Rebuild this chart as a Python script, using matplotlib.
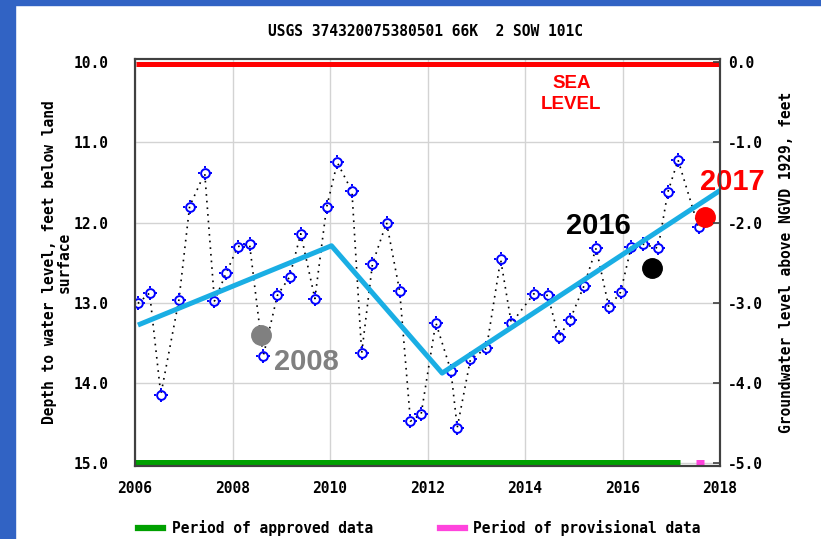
import matplotlib
matplotlib.use('Agg')
import matplotlib.pyplot as plt
from matplotlib.path import Path
from matplotlib.patches import Rectangle
from matplotlib.lines import Line2D
from matplotlib.ticker import FormatStrFormatter

plt.rcParams['axes.unicode_minus'] = False

# Quarterly depth-to-water readings (decimal year, feet below land surface)
years = [2006.06, 2006.30, 2006.53, 2006.90, 2007.12, 2007.43, 2007.63, 2007.87,
         2008.11, 2008.35, 2008.63, 2008.92, 2009.17, 2009.40, 2009.69, 2009.93,
         2010.15, 2010.45, 2010.65, 2010.87, 2011.16, 2011.43, 2011.65, 2011.87,
         2012.17, 2012.48, 2012.61, 2012.88, 2013.21, 2013.50, 2013.72, 2014.18,
         2014.47, 2014.69, 2014.92, 2015.21, 2015.46, 2015.72, 2015.96, 2016.18,
         2016.42, 2016.73, 2016.93, 2017.14, 2017.56]
depth = [13.01, 12.88, 14.15, 12.97, 11.80, 11.38, 12.98, 12.63,
         12.30, 12.27, 13.67, 12.91, 12.68, 12.14, 12.95, 11.81,
         11.25, 11.61, 13.63, 12.52, 12.00, 12.86, 14.48, 14.39,
         13.25, 13.85, 14.56, 13.71, 13.57, 12.46, 13.26, 12.89,
         12.91, 13.43, 13.22, 12.79, 12.32, 13.06, 12.87, 12.30,
         12.27, 12.32, 11.62, 11.22, 12.06]

# hand-drawn trend segments
trend_x = [2006.06, 2010.03, 2012.30, 2018.0]
trend_y = [13.28, 12.29, 13.88, 11.60]

# highlighted years
hl_x = [2008.59, 2016.61, 2017.70]
hl_y = [13.40, 12.57, 11.93]
hl_colors = ['#808080', '#000000', '#ff0000']
hl_labels = ['2008', '2016', '2017']
hl_label_x = [2009.52, 2015.50, 2018.25]
hl_label_y = [13.74, 12.04, 11.49]

sea_level_depth = 10.0
approved_period = [2006.0, 2017.17]
provisional_period = [2017.50, 2017.67]

mono = 'DejaVu Sans Mono'

fig = plt.figure(figsize=(8.21, 5.39), dpi=100)
ax = fig.add_axes([135 / 821, 1 - 466 / 539, 585 / 821, 407 / 539])

# blue page border
fig.add_artist(Rectangle((0, 0), 15 / 821, 1, transform=fig.transFigure,
                         color='#3163c4', zorder=0))
fig.add_artist(Rectangle((0, 1 - 5 / 539), 1, 5 / 539, transform=fig.transFigure,
                         color='#3163c4', zorder=0))

# short ticks around each circle marker
tick_len = 0.3
ticks = Path([(0, 1 - tick_len), (0, 1), (0, tick_len - 1), (0, -1),
              (1 - tick_len, 0), (1, 0), (tick_len - 1, 0), (-1, 0)],
             [Path.MOVETO, Path.LINETO] * 4)

ax.plot(years, depth, color='black', lw=1.2, ls=(0, (1, 3)), zorder=3)
ax.plot(years, depth, ls='none', marker='o', ms=6.3, mfc='none', mec='#0000ff',
        mew=1.4, zorder=4)
ax.plot(years, depth, ls='none', marker=ticks, ms=9.5, mec='#0000ff',
        mew=1.4, zorder=4)

ax.plot(trend_x, trend_y, color='#1aaee4', lw=3.6, zorder=5, solid_capstyle='butt')

ax.plot([2006.02, 2018], [sea_level_depth + 0.025] * 2, color='#ff0000', lw=3.6, zorder=2,
        solid_capstyle='butt')
ax.text(2014.95, 10.39, 'SEA\nLEVEL', color='#ff0000', fontsize=13.5, fontweight='bold',
        family='Liberation Sans', ha='center', va='center', linespacing=1.3)

ax.plot(approved_period, [14.99, 14.99], color='#00a000', lw=3.6, zorder=2,
        solid_capstyle='butt')
ax.plot(provisional_period, [14.99, 14.99], color='#ff44dd', lw=3.6, zorder=2,
        solid_capstyle='butt')

for x, y, c in zip(hl_x, hl_y, hl_colors):
    ax.plot(x, y, 'o', color=c, ms=14, zorder=6, clip_on=False)
for x, y, t, c in zip(hl_label_x, hl_label_y, hl_labels, hl_colors):
    ax.text(x, y, t, color=c, fontsize=21, fontweight='bold', family='Liberation Sans',
            ha='center', va='center', zorder=7, clip_on=False)

ax.set_xlim(2006, 2018)
ax.set_ylim(15.04, 9.958)
ax.set_xticks(range(2006, 2019, 2))
ax.set_yticks([10, 11, 12, 13, 14, 15])
ax.yaxis.set_major_formatter(FormatStrFormatter('%.1f'))
ax.grid(True, color='#d3d3d3', lw=1)
ax.set_axisbelow(True)
ax.tick_params(axis='both', length=0, labelsize=10.5)
ax.tick_params(axis='x', pad=11)
ax.tick_params(axis='y', pad=19)
for lab in ax.get_xticklabels() + ax.get_yticklabels():
    lab.set_family(mono)
    lab.set_fontweight('bold')
for sp in ax.spines.values():
    sp.set_color('#404040')
    sp.set_linewidth(1.5)

ax.set_ylabel('Depth to water level, feet below land\nsurface', family=mono,
              fontweight='bold', fontsize=10.5, linespacing=1.0, labelpad=1)

ax2 = ax.twinx()
ax2.set_ylim(sea_level_depth - 15.04, sea_level_depth - 9.958)
ax2.set_yticks([0, -1, -2, -3, -4, -5])
ax2.yaxis.set_major_formatter(FormatStrFormatter('%.1f'))
ax2.tick_params(axis='y', direction='in', length=5, width=1.2, color='#404040',
                labelsize=10.5, pad=6)
for lab in ax2.get_yticklabels():
    lab.set_family(mono)
    lab.set_fontweight('bold')
for sp in ax2.spines.values():
    sp.set_color('#404040')
    sp.set_linewidth(1.5)
ax2.set_ylabel('Groundwater level above NGVD 1929, feet', family=mono,
               fontweight='bold', fontsize=10.5, labelpad=11)

fig.text(425 / 821, 1 - 32 / 539, 'USGS 374320075380501 66K  2 SOW 101C', family=mono,
         fontweight='bold', fontsize=10.5, ha='center', va='center')

# legend row under the plot
ly = 1 - 528 / 539
fig.add_artist(Line2D([138 / 821, 163 / 821], [ly, ly], color='#00a000', lw=4.5,
                      transform=fig.transFigure))
fig.text(172 / 821, ly, 'Period of approved data', family=mono, fontweight='bold',
         fontsize=10.5, ha='left', va='center')
fig.add_artist(Line2D([440 / 821, 465 / 821], [ly, ly], color='#ff44dd', lw=4.5,
                      transform=fig.transFigure))
fig.text(473 / 821, ly, 'Period of provisional data', family=mono, fontweight='bold',
         fontsize=10.5, ha='left', va='center')

fig.savefig('out.png', dpi=100)
